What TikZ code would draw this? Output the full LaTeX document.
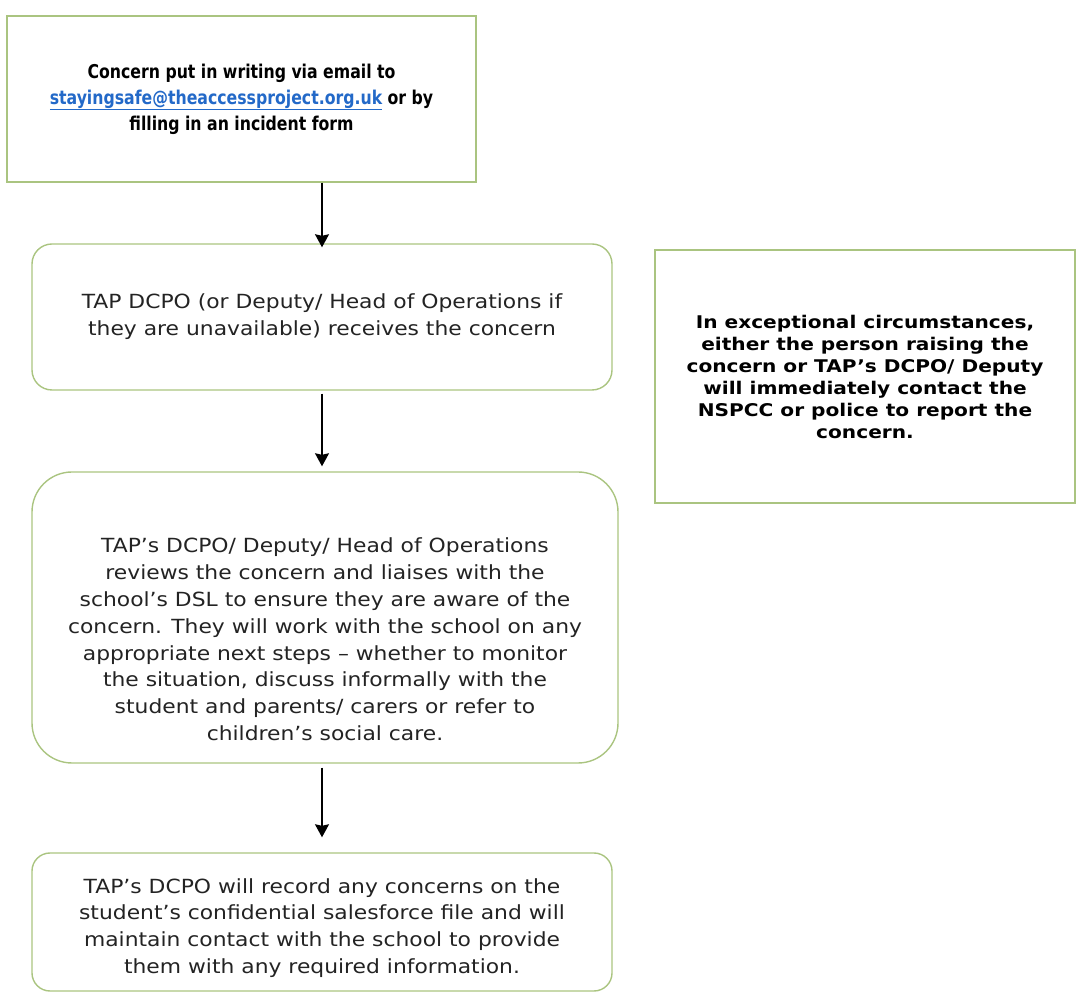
\documentclass[tikz,border=0pt]{standalone}
\usepackage{fontspec}
\setmainfont{DejaVu Sans}
\newfontfamily\condfont[FakeStretch=0.92]{DejaVu Sans Condensed}
\newfontfamily\boxfont[FakeStretch=1.12]{DejaVu Sans}
\newfontfamily\notefont[FakeStretch=1.15]{DejaVu Sans}
\usepackage{tikz}
\usetikzlibrary{positioning,arrows.meta,calc}
\definecolor{boxgreen}{RGB}{170,196,128}
\definecolor{linkblue}{RGB}{35,105,200}
\definecolor{textgray}{RGB}{35,35,35}

\begin{document}
\begin{tikzpicture}[x=1pt,y=1pt,
  flowbox/.style={draw=boxgreen, line width=1.4pt, inner sep=0pt, align=center, text=textgray},
  flowfont/.style={font=\boxfont\fontsize{19.5}{26.8}\selectfont},
  flowarrow/.style={-{Stealth[length=13pt,width=14pt,inset=1.5pt]}, line width=1.6pt, black}]

\useasboundingbox (0,0) rectangle (1076,993);

\node[flowbox, minimum width=469pt, minimum height=166pt, text=black, font={\condfont\bfseries\fontsize{19}{26}\selectfont}] (intake) at (241.5,894) {Concern put in writing via email to\\ \textcolor{linkblue}{\underline{stayingsafe@theaccessproject.org.uk}} or by\\ filling in an incident form};

\node[flowbox, flowfont, rounded corners=20pt, minimum width=580pt, minimum height=146pt] (recv) at (322,676) {TAP DCPO (or Deputy/ Head of Operations if\\ they are unavailable) receives the concern};

\node[flowbox, rounded corners=40pt, minimum width=586pt, minimum height=291pt] (review) at (325,375.5) {};

\node[flowfont, align=center, text=textgray] (reviewtxt) at ([yshift=-22pt]review.center) {TAP’s DCPO/ Deputy/ Head of Operations\\ reviews the concern and liaises with the\\ school’s DSL to ensure they are aware of the\\ concern. They will work with the school on any\\ appropriate next steps – whether to monitor\\ the situation, discuss informally with the\\ student and parents/ carers or refer to\\ children’s social care.};

\node[flowbox, rounded corners=18pt, minimum width=580pt, minimum height=138pt] (record) at (322,71) {};

\node[flowfont, align=center, text=textgray] (recordtxt) at ([yshift=-6pt]record.center) {TAP’s DCPO will record any concerns on the\\ student’s confidential salesforce file and will\\ maintain contact with the school to provide\\ them with any required information.};

\node[flowbox, text=black, minimum width=420pt, minimum height=253pt, font={\notefont\bfseries\fontsize{17.5}{22}\selectfont}] (urgent) at (865,616.5) {In exceptional circumstances,\\ either the person raising the\\ concern or TAP’s DCPO/ Deputy\\ will immediately contact the\\ NSPCC or police to report the\\ concern.};

\draw[flowarrow, shorten >=-4pt] (intake.south -| recv.north) -- (recv.north);
\draw[flowarrow, shorten <=3pt, shorten >=5pt] (recv.south) -- (recv.south |- review.north);
\draw[flowarrow, shorten <=4pt, shorten >=15pt] (review.south -| record.north) -- (record.north);

\end{tikzpicture}
\end{document}
